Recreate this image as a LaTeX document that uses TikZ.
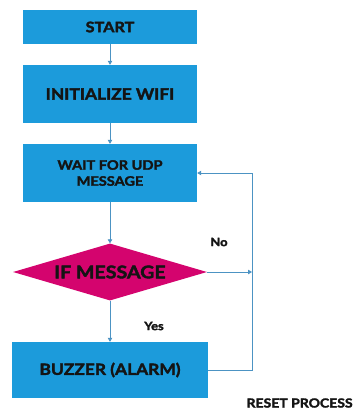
\documentclass[tikz,border=0pt]{standalone}
\usepackage{fontspec}
\setmainfont{Lato}[BoldFeatures={FakeBold=2.2,FakeStretch=1.12}]
\usetikzlibrary{shapes.geometric,arrows.meta}
\definecolor{boxblue}{HTML}{1C9BDB}
\definecolor{diapink}{HTML}{D4046E}
\definecolor{lineblue}{HTML}{4C93C3}
\begin{document}
\begin{tikzpicture}[x=1pt,y=-1pt,
  box/.style={fill=boxblue,draw=none,inner sep=0pt,font=\bfseries,text=black!92,align=center},
  conn/.style={draw=lineblue,line width=0.8pt,-{Triangle[length=4pt,width=4.5pt]}},
  lbl/.style={font=\bfseries\fontsize{11.5}{13}\selectfont,text=black!92}]
\useasboundingbox (0,0) rectangle (355,410);
\node[box,minimum width=174pt,minimum height=34pt,font=\bfseries\fontsize{14.5}{16}\selectfont] (start) at (110,27) {START};
\node[box,minimum width=174pt,minimum height=58pt,font=\bfseries\fontsize{15.5}{18}\selectfont] (init) at (110,94) {INITIALIZE WIFI};
\node[box,minimum width=174pt,minimum height=58pt,font=\bfseries\fontsize{13}{16}\selectfont] (wait) at (110,173) {WAIT FOR UDP\\MESSAGE};
\node[diamond,fill=diapink,draw=none,inner sep=0pt,minimum width=194pt,minimum height=57pt,aspect=3.4] (dec) at (110,272) {};
\node[font=\bfseries\fontsize{17.5}{20}\selectfont,text=black!92] (dectext) at (110,272) {IF MESSAGE};
\node[box,minimum width=196pt,minimum height=56pt,font=\bfseries\fontsize{15.5}{18}\selectfont] (buzz) at (110,370) {BUZZER (ALARM)};
\coordinate (r1) at (252,370);
\coordinate (r2) at (252,173);
\coordinate (rd) at (252,272);
\draw[conn] (start) -- (init);
\draw[conn] (init) -- (wait);
\draw[conn] (wait) -- (dec.north);
\draw[conn] (dec.south) -- (buzz);
\draw[conn] (dec.east) -- (rd);
\draw[draw=lineblue,line width=0.8pt] (buzz.east) -- (r1) -- (r2);
\draw[conn] (r2) -- (wait.east);
\node[lbl] (no) at (219,242) {No};
\node[lbl] (yes) at (154,326) {Yes};
\node[lbl,anchor=west,font=\bfseries\fontsize{12.5}{14}\selectfont] (reset) at (243,403) {RESET PROCESS};
\end{tikzpicture}
\end{document}
